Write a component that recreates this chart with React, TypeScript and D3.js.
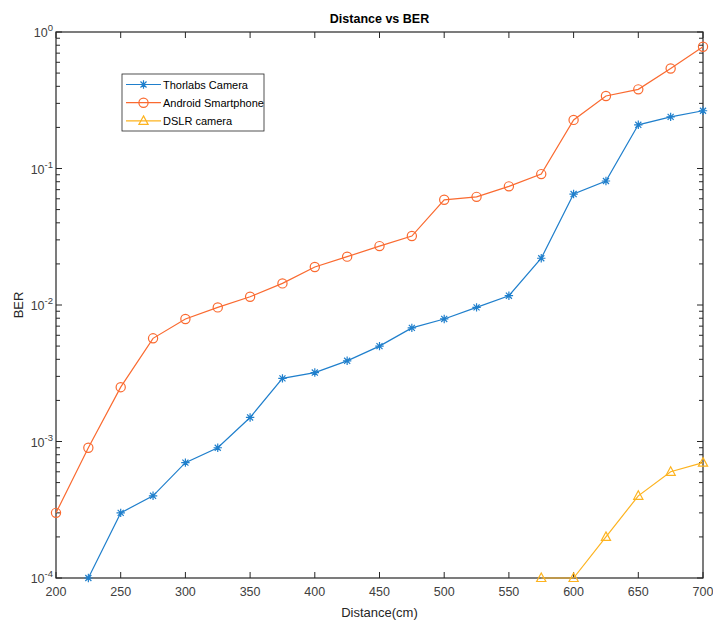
import React, { useEffect, useRef } from 'react';
import * as d3 from 'd3';

const distances = [200, 225, 250, 275, 300, 325, 350, 375, 400, 425, 450, 475, 500, 525, 550, 575, 600, 625, 650, 675, 700];

// Thorlabs starts at 225
const thorlabsX = distances.slice(1);
const thorlabsBER = [1e-4, 3e-4, 4e-4, 7e-4, 9e-4, 1.5e-3, 2.9e-3, 3.2e-3, 3.9e-3, 5e-3, 6.8e-3, 7.9e-3, 9.6e-3, 1.17e-2, 2.2e-2, 6.5e-2, 8.1e-2, 0.209, 0.239, 0.265];

const androidX = distances;
const androidBER = [3e-4, 9e-4, 2.5e-3, 5.7e-3, 7.9e-3, 9.6e-3, 1.15e-2, 1.44e-2, 1.9e-2, 2.26e-2, 2.7e-2, 3.2e-2, 5.9e-2, 6.2e-2, 7.4e-2, 9.1e-2, 0.227, 0.34, 0.38, 0.54, 0.78];

const dslrX = [575, 600, 625, 650, 675, 700];
const dslrBER = [1e-4, 1e-4, 2e-4, 4e-4, 6e-4, 7e-4];

const xTicks = [200, 250, 300, 350, 400, 450, 500, 550, 600, 650, 700];
const yExponents = [-4, -3, -2, -1, 0];

const seriesNames = ['Thorlabs Camera', 'Android Smartphone', 'DSLR camera'];
const seriesColors = ['#1f7fcc', '#fa6a30', '#fdb31f'];
const seriesMarkers = ['star', 'circle', 'triangle'];

const W = 713;
const H = 624;

const App = () => {
  const svgRef = useRef<SVGSVGElement>(null);

  useEffect(() => {
    const svg = d3.select(svgRef.current);
    svg.selectAll('*').remove();

    const margin = { left: 56, right: 10, top: 32, bottom: 46 };
    const innerW = W - margin.left - margin.right;
    const innerH = H - margin.top - margin.bottom;
    const font = "'Liberation Sans', Arial, sans-serif";

    svg.append('rect').attr('width', W).attr('height', H).attr('fill', 'white');

    const x = d3.scaleLinear().domain([200, 700]).range([0, innerW]);
    const y = d3.scaleLog().domain([1e-4, 1]).range([innerH, 0]);

    const g = svg.append('g').attr('transform', `translate(${margin.left},${margin.top})`);

    // minor ticks on log axis
    const minorVals: number[] = [];
    for (let e = -4; e < 0; e++) {
      for (let m = 2; m <= 9; m++) minorVals.push(m * Math.pow(10, e));
    }

    const tickColor = '#262626';
    const labelColor = '#404040';

    // x major ticks bottom/top
    xTicks.forEach(v => {
      g.append('line').attr('x1', x(v)).attr('x2', x(v)).attr('y1', innerH).attr('y2', innerH - 6)
        .attr('stroke', tickColor).attr('stroke-width', 1);
      g.append('line').attr('x1', x(v)).attr('x2', x(v)).attr('y1', 0).attr('y2', 6)
        .attr('stroke', tickColor).attr('stroke-width', 1);
      g.append('text').attr('x', x(v)).attr('y', innerH + 18)
        .attr('text-anchor', 'middle').attr('font-family', font).attr('font-size', 12.5)
        .attr('fill', labelColor).text(v);
    });

    yExponents.forEach(e => {
      const yy = y(Math.pow(10, e));
      g.append('line').attr('x1', 0).attr('x2', 6).attr('y1', yy).attr('y2', yy)
        .attr('stroke', tickColor);
      g.append('line').attr('x1', innerW).attr('x2', innerW - 6).attr('y1', yy).attr('y2', yy)
        .attr('stroke', tickColor);
      const t = g.append('text').attr('x', -3).attr('y', yy + 5)
        .attr('text-anchor', 'end').attr('font-family', font).attr('font-size', 12.5)
        .attr('fill', labelColor);
      t.append('tspan').text('10');
      t.append('tspan').attr('dy', -6).attr('font-size', 9.5).text(String(e));
    });

    minorVals.forEach(v => {
      const yy = y(v);
      g.append('line').attr('x1', 0).attr('x2', 4).attr('y1', yy).attr('y2', yy)
        .attr('stroke', tickColor);
      g.append('line').attr('x1', innerW).attr('x2', innerW - 4).attr('y1', yy).attr('y2', yy)
        .attr('stroke', tickColor);
    });

    // box
    g.append('rect').attr('width', innerW).attr('height', innerH)
      .attr('fill', 'none').attr('stroke', tickColor).attr('stroke-width', 1.2);

    const drawMarker = (sel: any, type: string, color: string) => {
      if (type === 'star') {
        const r = 4.2;
        const d = r * 0.72;
        sel.append('path')
          .attr('d', `M${-r},0L${r},0M0,${-r}L0,${r}M${-d},${-d}L${d},${d}M${-d},${d}L${d},${-d}`)
          .attr('stroke', color).attr('stroke-width', 1.2).attr('fill', 'none');
      } else if (type === 'circle') {
        sel.append('circle').attr('r', 4.6).attr('fill', 'none')
          .attr('stroke', color).attr('stroke-width', 1.2);
      } else {
        sel.append('path').attr('d', 'M0,-5L4.6,3.5L-4.6,3.5Z').attr('fill', 'none')
          .attr('stroke', color).attr('stroke-width', 1.2);
      }
    };

    const series = [
      { xs: thorlabsX, ys: thorlabsBER },
      { xs: androidX, ys: androidBER },
      { xs: dslrX, ys: dslrBER },
    ];

    const line = d3.line<[number, number]>().x(d => x(d[0])).y(d => y(d[1]));

    series.forEach((s, i) => {
      const pts: [number, number][] = s.xs.map((v, j) => [v, s.ys[j]]);
      g.append('path').attr('d', line(pts)).attr('fill', 'none')
        .attr('stroke', seriesColors[i]).attr('stroke-width', 1.2);
      pts.forEach(p => {
        const m = g.append('g').attr('transform', `translate(${x(p[0])},${y(p[1])})`);
        drawMarker(m, seriesMarkers[i], seriesColors[i]);
      });
    });

    // legend
    const legend = svg.append('g').attr('transform', 'translate(122,74)');
    legend.append('rect').attr('width', 142).attr('height', 57)
      .attr('fill', 'white').attr('stroke', tickColor).attr('stroke-width', 0.8);
    seriesNames.forEach((name, i) => {
      const ly = 10.5 + i * 18.2;
      legend.append('line').attr('x1', 4).attr('x2', 39).attr('y1', ly).attr('y2', ly)
        .attr('stroke', seriesColors[i]).attr('stroke-width', 1.2);
      const m = legend.append('g').attr('transform', `translate(21.5,${ly})`);
      drawMarker(m, seriesMarkers[i], seriesColors[i]);
      legend.append('text').attr('x', 41).attr('y', ly + 4).attr('font-family', font)
        .attr('font-size', 11).attr('fill', '#000').text(name);
    });

    // title and axis labels
    svg.append('text').attr('x', margin.left + innerW / 2).attr('y', 23)
      .attr('text-anchor', 'middle').attr('font-family', font).attr('font-size', 12.5)
      .attr('font-weight', 'bold').attr('fill', '#000').text('Distance vs BER');

    svg.append('text').attr('x', margin.left + innerW / 2).attr('y', 617)
      .attr('text-anchor', 'middle').attr('font-family', font).attr('font-size', 13)
      .attr('fill', tickColor).text('Distance(cm)');

    svg.append('text').attr('transform', `translate(23,${margin.top + innerH / 2}) rotate(-90)`)
      .attr('text-anchor', 'middle').attr('font-family', font).attr('font-size', 13)
      .attr('fill', tickColor).text('BER');
  }, []);

  return (
    <svg ref={svgRef} width={W} height={H}
      style={{ position: 'absolute', left: 0, top: 0, display: 'block' }} />
  );
};

export default App;
